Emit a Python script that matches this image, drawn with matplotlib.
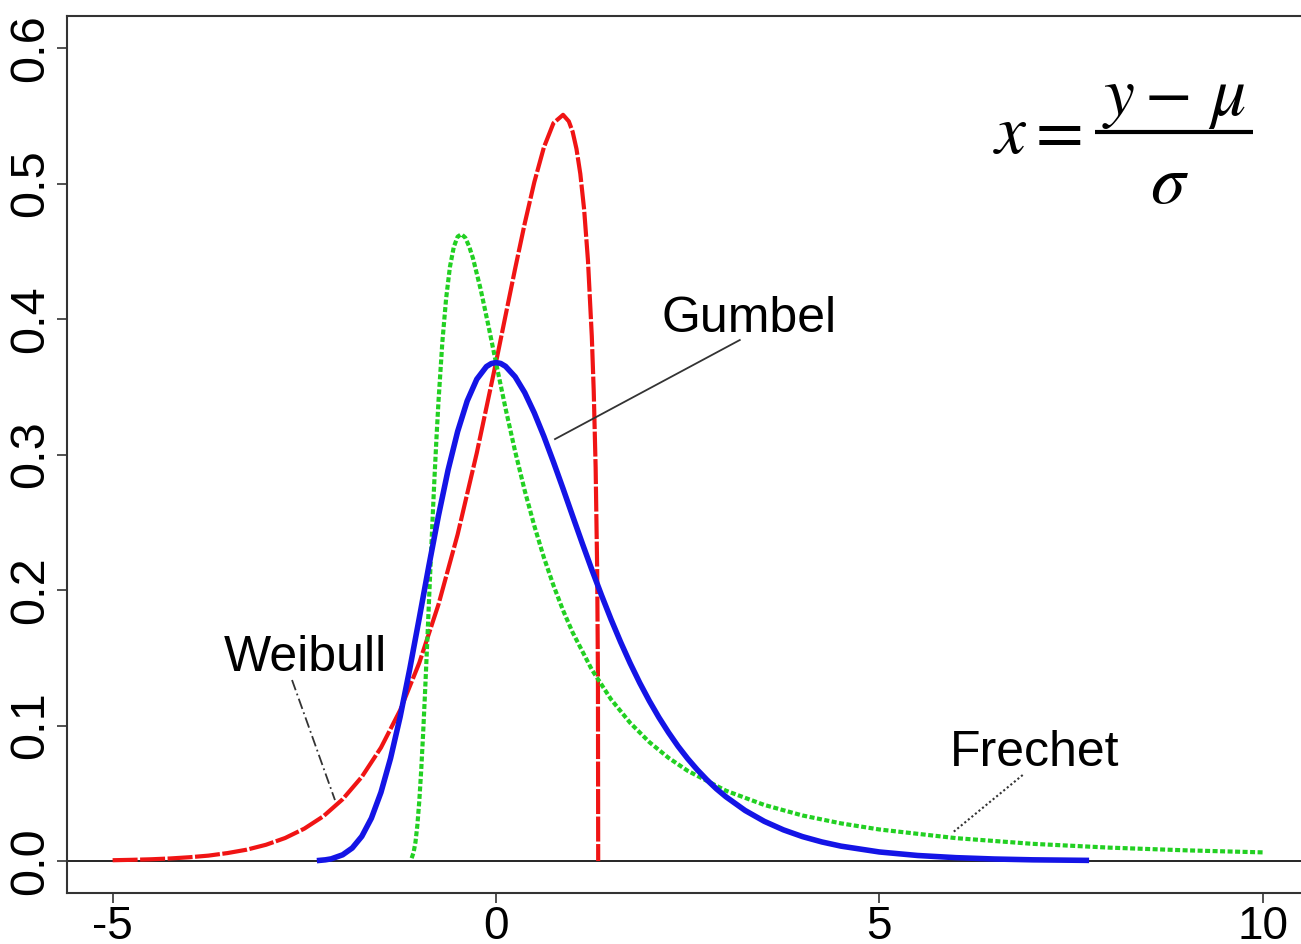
import matplotlib
matplotlib.use('Agg')
import matplotlib.pyplot as plt

# valores (densidades GEV estandarizadas)
gumbel_x = [-2.3, -2.225, -2.15, -2.0, -1.875, -1.75, -1.625, -1.5, -1.375, -1.25, -1.125, -1.0,
            -0.875, -0.75, -0.625, -0.5, -0.375, -0.25, -0.125, -0.0625, 0.0, 0.0625, 0.125, 0.25,
            0.375, 0.5, 0.625, 0.75, 0.875, 1.0, 1.125, 1.25, 1.375, 1.5, 1.625, 1.75, 1.875, 2.0,
            2.125, 2.25, 2.375, 2.5, 2.625, 2.75, 2.875, 3.0, 3.25, 3.5, 3.75, 4.0, 4.25, 4.5,
            5.0, 5.5, 6.0, 6.5, 7.0, 7.7]
gumbel_y = [0.0005, 0.0009, 0.0016, 0.0046, 0.0096, 0.0182, 0.0316, 0.0507, 0.0758, 0.1064, 0.1416, 0.1794,
            0.2179, 0.2549, 0.2885, 0.3170, 0.3396, 0.3556, 0.3649, 0.3671, 0.3679, 0.3672, 0.3651, 0.3574,
            0.3457, 0.3307, 0.3134, 0.2945, 0.2748, 0.2546, 0.2346, 0.2151, 0.1964, 0.1785, 0.1617, 0.1460, 0.1315, 0.1182,
            0.1060, 0.0949, 0.0847, 0.0756, 0.0674, 0.0600, 0.0533, 0.0474, 0.0373, 0.0293, 0.0230, 0.0180, 0.0141, 0.0110,
            0.0067, 0.0041, 0.0025, 0.0015, 0.0009, 0.0005]

weibull_x = [-5.0, -4.75, -4.5, -4.25, -4.0, -3.75, -3.5, -3.25, -3.0, -2.75, -2.5, -2.25, -2.0,
             -1.75, -1.5, -1.25, -1.0, -0.75, -0.5, -0.25, 0.0, 0.125, 0.25, 0.375, 0.5,
             0.625, 0.75, 0.875, 0.95, 1.0, 1.05, 1.1, 1.15, 1.2, 1.25, 1.275, 1.3, 1.32,
             1.33, 1.3333]
weibull_y = [0.0006, 0.0009, 0.0013, 0.0019, 0.0028, 0.0040, 0.0059, 0.0084, 0.0120, 0.0170, 0.0239, 0.0331, 0.0456,
             0.0621, 0.0837, 0.1113, 0.1463, 0.1893, 0.2410, 0.3012, 0.3679, 0.4026, 0.4372, 0.4705, 0.5010,
             0.5267, 0.5446, 0.5507, 0.5459, 0.5382, 0.5256, 0.5072, 0.4808, 0.4431, 0.3872, 0.3470, 0.2903, 0.2150,
             0.1354, 0.0]

frechet_x = [-1.1, -1.075, -1.05, -1.025, -1.0, -0.975, -0.95, -0.925, -0.9, -0.875, -0.85, -0.825,
             -0.8, -0.775, -0.75, -0.7, -0.65, -0.6, -0.55, -0.5, -0.45, -0.4, -0.35, -0.3,
             -0.2, -0.1, 0.0, 0.125, 0.25, 0.375, 0.5, 0.625, 0.75, 0.875, 1.0, 1.25, 1.5,
             1.75, 2.0, 2.25, 2.5, 3.0, 3.5, 4.0, 4.5, 5.0, 6.0, 7.0, 8.0, 9.0, 10.0]
frechet_y = [0.0021, 0.0062, 0.0139, 0.0266, 0.0444, 0.0672, 0.0943, 0.1245, 0.1568, 0.1899, 0.2230, 0.2549,
             0.2851, 0.3132, 0.3390, 0.3825, 0.4153, 0.4386, 0.4532, 0.4608, 0.4626, 0.4600, 0.4536, 0.4449,
             0.4220, 0.3955, 0.3679, 0.3340, 0.3023, 0.2734, 0.2474, 0.2240, 0.2034, 0.1850, 0.1687, 0.1413, 0.1194,
             0.1020, 0.0878, 0.0762, 0.0666, 0.0519, 0.0414, 0.0336, 0.0278, 0.0233, 0.0169, 0.0127, 0.0099, 0.0079, 0.0064]

xticks = [-5, 0, 5, 10]
xticklabels = ['-5', '0', '5', '10']
yticks = [0.0, 0.1, 0.2, 0.3, 0.4, 0.5, 0.6]
yticklabels = ['0.0', '0.1', '0.2', '0.3', '0.4', '0.5', '0.6']

plt.rcParams['font.family'] = ['Liberation Sans', 'DejaVu Sans']
plt.rcParams['mathtext.fontset'] = 'stix'

fig = plt.figure(figsize=(13.01, 9.44), dpi=100)
ax = fig.add_axes([0.0515, 0.054, 0.9485, 0.929])

ax.axhline(0, color='black', lw=1.2, zorder=1)

ax.plot(weibull_x, weibull_y, color='#f01414', lw=3, dashes=(6, 0.6), zorder=3)
ax.plot(frechet_x, frechet_y, color='#22d022', lw=3, dashes=(1.2, 0.6), zorder=3)
ax.plot(gumbel_x, gumbel_y, color='#1414e6', lw=4, zorder=4)

# etiquetas con sus lineas
ax.text(3.3, 0.40, 'Gumbel', fontsize=36, ha='center', va='center')
ax.plot([3.18, 0.77], [0.3845, 0.3114], color='#333333', lw=1.3, zorder=5)
ax.text(-2.49, 0.150, 'Weibull', fontsize=36, ha='center', va='center')
ax.plot([-2.66, -2.10], [0.1336, 0.045], color='#333333', lw=1.3, dashes=(6, 2, 1, 2), zorder=5)
ax.text(7.02, 0.0797, 'Frechet', fontsize=36, ha='center', va='center')
ax.plot([6.87, 5.95], [0.0635, 0.0207], color='#333333', lw=1.5, dashes=(1, 1.2), zorder=5)

# formula x = (y - mu) / sigma
ax.text(6.48, 0.5225, r'$x=$', fontsize=50, ha='left', va='baseline')
ax.text(8.84, 0.5506, r'$y-\,\mu$', fontsize=50, ha='center', va='baseline')
ax.plot([7.81, 9.87], [0.538, 0.538], color='black', lw=3, solid_capstyle='butt')
ax.text(8.79, 0.4856, r'$\sigma$', fontsize=50, ha='center', va='baseline')

ax.set_xlim(-5.595, 10.5)
ax.set_ylim(-0.0236, 0.6236)
ax.set_xticks(xticks)
ax.set_xticklabels(xticklabels)
ax.set_yticks(yticks)
ax.set_yticklabels(yticklabels, rotation=90, va='center')
ax.tick_params(labelsize=35, length=7, width=1.2, color='#333333')
ax.tick_params(axis='x', labelsize=33, pad=1.5)
ax.tick_params(axis='y', pad=3)
for s in ['left', 'top', 'bottom']:
    ax.spines[s].set_linewidth(1.5)
    ax.spines[s].set_color('#333333')
ax.spines['right'].set_visible(False)

plt.savefig('out.png', dpi=100)
